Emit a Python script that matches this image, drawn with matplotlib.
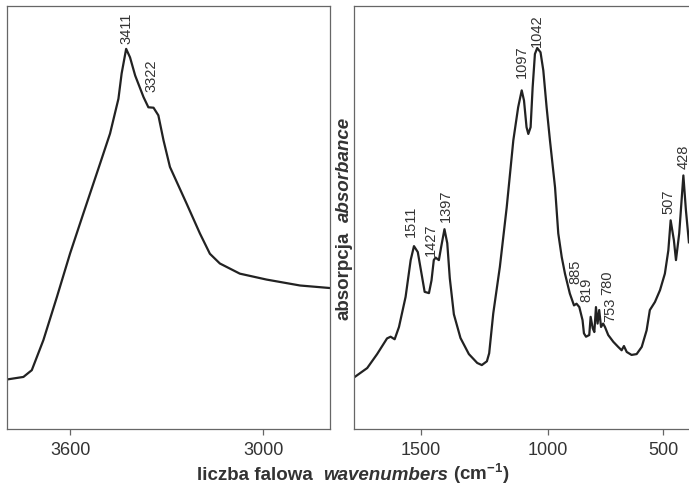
import numpy as np
import matplotlib
matplotlib.use('Agg')
import matplotlib.pyplot as plt

plt.rcParams['font.family'] = ['Liberation Sans', 'DejaVu Sans']
plt.rcParams['mathtext.fontset'] = 'custom'
plt.rcParams['mathtext.rm'] = 'Liberation Sans:bold'
plt.rcParams['mathtext.bf'] = 'Liberation Sans:bold'

# OH stretching region (left panel)
left_wn = [3796, 3745, 3719, 3683, 3641, 3600, 3559, 3507, 3476, 3450, 3440,
           3426, 3414, 3398, 3372, 3357, 3341, 3326, 3310, 3290, 3238, 3197,
           3166, 3135, 3073, 2990, 2886, 2793]
left_abs = [0.117, 0.123, 0.139, 0.210, 0.312, 0.415, 0.509, 0.627, 0.698,
            0.780, 0.840, 0.898, 0.878, 0.835, 0.784, 0.760, 0.759, 0.741,
            0.682, 0.619, 0.532, 0.462, 0.414, 0.391, 0.367, 0.353, 0.339,
            0.333]
left_peaks = ['3411', '3322']
left_peak_x = [3424, 3346]
left_peak_y = [0.910, 0.795]

# fingerprint region (right panel)
right_wn = [1759, 1710, 1671, 1632, 1618, 1602, 1585, 1559, 1539, 1526, 1511,
            1494, 1484, 1467, 1457, 1448, 1441, 1428, 1419, 1406, 1395, 1385,
            1369, 1343, 1310, 1277, 1259, 1239, 1230, 1214, 1188, 1161, 1135,
            1116, 1102, 1093, 1083, 1076, 1067, 1059, 1050, 1041, 1028, 1017,
            1004, 990, 968, 954, 939, 925, 904, 886, 875, 863, 849, 843, 834,
            820, 814, 805, 798, 791, 784, 777, 769, 760, 752, 738, 716, 695,
            680, 670, 658, 637, 615, 593, 572, 558, 536, 514, 493, 478, 468,
            454, 445, 431, 413, 402, 389]
right_abs = [0.123, 0.144, 0.177, 0.214, 0.218, 0.212, 0.241, 0.312, 0.399,
             0.432, 0.418, 0.359, 0.324, 0.321, 0.351, 0.399, 0.405, 0.399,
             0.430, 0.472, 0.439, 0.356, 0.271, 0.215, 0.177, 0.156, 0.151,
             0.160, 0.179, 0.273, 0.383, 0.524, 0.682, 0.760, 0.800, 0.776,
             0.713, 0.697, 0.713, 0.807, 0.886, 0.900, 0.890, 0.847, 0.760,
             0.682, 0.571, 0.462, 0.406, 0.367, 0.320, 0.292, 0.296, 0.288,
             0.257, 0.226, 0.218, 0.222, 0.265, 0.238, 0.229, 0.288, 0.249,
             0.281, 0.241, 0.249, 0.241, 0.222, 0.206, 0.194, 0.186, 0.196,
             0.182, 0.175, 0.177, 0.194, 0.233, 0.281, 0.300, 0.328, 0.367,
             0.422, 0.493, 0.446, 0.399, 0.462, 0.599, 0.517, 0.441]
right_peaks = ['1511', '1427', '1397', '1097', '1042', '885', '819', '780',
               '753', '507', '428']
right_peak_x = [1538, 1459, 1402, 1100, 1043, 882, 832, 744, 728, 478, 414]
right_peak_y = [0.454, 0.408, 0.488, 0.829, 0.902, 0.342, 0.300, 0.316,
                0.252, 0.509, 0.615]

line_col = '#222222'
spine_col = '#666666'
text_col = '#333333'


# axis below 1000 cm-1 is slightly compressed in the original
def fwd(x):
    x = np.asarray(x, float)
    return np.where(x < 1000, 1000 - (1000 - x) * 0.91, x)


def inv(y):
    y = np.asarray(y, float)
    return np.where(y < 1000, 1000 - (1000 - y) / 0.91, y)


fig = plt.figure(figsize=(6.89, 4.86), dpi=100)
ax1 = fig.add_axes([7 / 689, 57 / 486, 323 / 689, 423.3 / 486])
ax2 = fig.add_axes([354 / 689, 57 / 486, 337 / 689, 423.3 / 486])

ax1.plot(left_wn, left_abs, color=line_col, lw=1.6)
ax1.set_xlim(3796, 2793)
ax1.set_xticks([3600, 3000])
for lab, x, y in zip(left_peaks, left_peak_x, left_peak_y):
    ax1.text(x, y, lab, rotation=90, ha='center', va='bottom',
             fontsize=10.5, color=text_col)

ax2.set_xscale('function', functions=(fwd, inv))
ax2.plot(right_wn, right_abs, color=line_col, lw=1.6)
ax2.set_xlim(1762, 380)
ax2.set_xticks([1500, 1000, 500])
ax2.set_xticklabels(['1500', '1000', '500'])
ax2.xaxis.set_minor_locator(matplotlib.ticker.NullLocator())
for lab, x, y in zip(right_peaks, right_peak_x, right_peak_y):
    ax2.text(x, y, lab, rotation=90, ha='center', va='bottom',
             fontsize=10.5, color=text_col)

for ax in (ax1, ax2):
    ax.set_ylim(0, 1.0)
    ax.set_yticks([])
    for s in ax.spines.values():
        s.set_color(spine_col)
        s.set_linewidth(0.9)
    ax.tick_params(axis='x', direction='out', length=4.3, width=0.9,
                   pad=5, labelsize=13, colors=spine_col, labelcolor=text_col)

# x label: bold + bold italic parts
t1 = fig.text(197.3 / 689, (486 - 480.4) / 486, 'liczba falowa  ',
              ha='left', va='baseline', fontsize=13.5, fontweight='bold',
              color=text_col)
t2 = fig.text(0, 0, 'wavenumbers', ha='left', va='baseline', fontsize=13.5,
              fontweight='bold', style='italic', color=text_col)
t3 = fig.text(0, 0, r' (cm$^{-1}$)', ha='left', va='baseline', fontsize=13.5,
              fontweight='bold', color=text_col)

# y label: rotated, two parts
y1 = fig.text(344 / 689, (486 - 320) / 486, 'absorpcja', rotation=90,
              ha='center', va='bottom', fontsize=13.5, fontweight='bold',
              color=text_col)
y2 = fig.text(0, 0, 'absorbance', rotation=90, ha='center', va='bottom',
              fontsize=13.5, fontweight='bold', style='italic',
              color=text_col)

fig.canvas.draw()
r = fig.canvas.get_renderer()
inv_fig = fig.transFigure.inverted()
bb1 = t1.get_window_extent(r)
t2.set_position(inv_fig.transform((bb1.x1, 0)) * [1, 0] + [0, t1.get_position()[1]])
fig.canvas.draw()
bb2 = t2.get_window_extent(r)
t3.set_position(inv_fig.transform((bb2.x1, 0)) * [1, 0] + [0, t1.get_position()[1]])

by1 = y1.get_window_extent(r)
y2.set_position((y1.get_position()[0], inv_fig.transform((0, by1.y1 + 10))[1]))

fig.savefig('out.png', dpi=100)
